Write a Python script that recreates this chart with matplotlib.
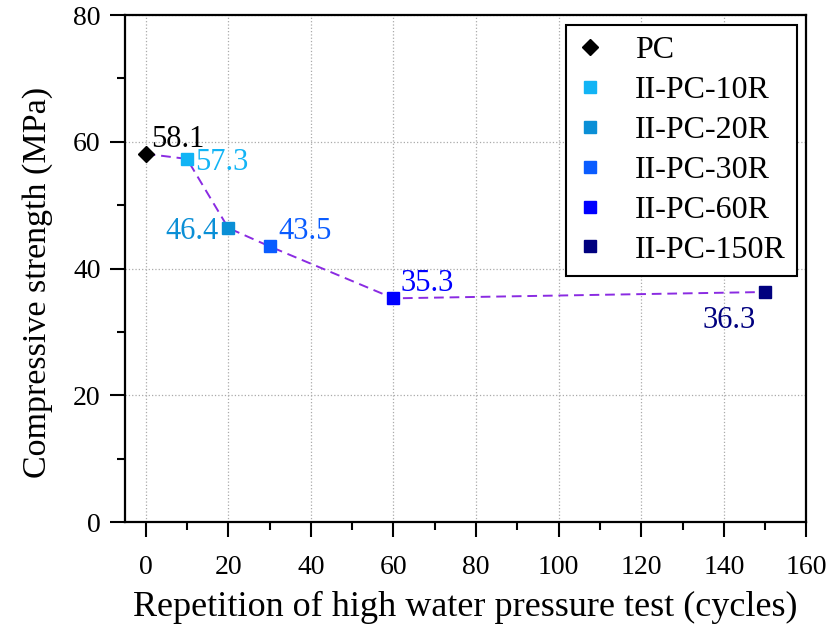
import matplotlib
matplotlib.use("Agg")
import matplotlib.pyplot as plt
from matplotlib.ticker import MultipleLocator

plt.rcParams["font.family"] = ["Liberation Serif", "DejaVu Serif"]

# compressive strength after repeated high water pressure cycles
labels = ["PC", "II-PC-10R", "II-PC-20R", "II-PC-30R", "II-PC-60R", "II-PC-150R"]
cycles = [0, 10, 20, 30, 60, 150]
strength = [58.1, 57.3, 46.4, 43.5, 35.3, 36.3]

colors = ["#000000", "#12b4f5", "#0a8fd6", "#0a5cff", "#0000ff", "#00007f"]
markers = ["D", "s", "s", "s", "s", "s"]
# value label placement: (dx, dy) in points, ha, va
label_pos = [
    ((4, 5), "left", "baseline"),
    ((6, 0), "left", "center_baseline"),
    ((-7, 0), "right", "center_baseline"),
    ((6, 5), "left", "baseline"),
    ((5, 5), "left", "baseline"),
    ((-7, -10), "right", "top"),
]

fig = plt.figure(figsize=(8.28, 6.26), dpi=100, facecolor="white")
ax = fig.add_axes([0.151, 0.166, 0.823, 0.81])

ax.plot(cycles, strength, linestyle=(0, (5, 3)), color="#8a2be2", lw=1.4, zorder=2)
for x, y, lab, c, m, (off, ha, va) in zip(cycles, strength, labels, colors, markers, label_pos):
    ax.plot(x, y, linestyle="none", marker=m, color=c,
            markersize=8.5 if m == "D" else 8, label=lab, zorder=3)
    ax.annotate(f"{y:.1f}", (x, y), xytext=off, textcoords="offset points",
                ha=ha, va=va, color=c, fontsize=22)

ax.set_xlim(-5, 160)
ax.set_ylim(0, 80)
ax.xaxis.set_major_locator(MultipleLocator(20))
ax.xaxis.set_minor_locator(MultipleLocator(10))
ax.yaxis.set_major_locator(MultipleLocator(20))
ax.yaxis.set_minor_locator(MultipleLocator(10))
ax.tick_params(which="major", direction="out", length=10.5, width=1.5, labelsize=20)
ax.tick_params(axis="x", which="major", pad=13)
ax.tick_params(axis="y", which="major", pad=7)
ax.tick_params(which="minor", direction="out", length=6, width=1.5)
ax.tick_params(top=False, right=False)
ax.grid(True, which="major", linestyle=":", color="#aaaaaa", lw=0.9)
for side in ax.spines.values():
    side.set_linewidth(1.6)

ax.set_xlabel("Repetition of high water pressure test (cycles)", fontsize=26)
ax.set_ylabel("Compressive strength (MPa)", fontsize=24.5)
ax.xaxis.set_label_coords(0.5, -0.135)
ax.yaxis.set_label_coords(-0.105, 0.473)

leg = ax.legend(loc="upper right", fontsize=23, frameon=True, fancybox=False,
                edgecolor="black", handletextpad=1.0, borderaxespad=0.3,
                labelspacing=0.33, handlelength=0.8, borderpad=0.35)
leg.get_frame().set_linewidth(1.5)
leg.get_frame().set_alpha(1)

fig.savefig("out.png", dpi=100, facecolor="white")
